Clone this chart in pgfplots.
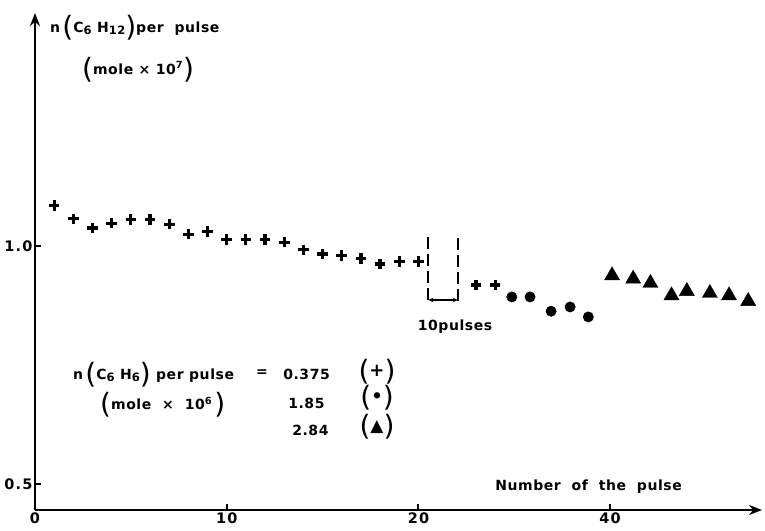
\documentclass[border=0pt]{standalone}
\usepackage{fontspec}
\setmainfont{DejaVu Sans}[LetterSpace=4]
\newfontfamily\tickfont{DejaVu Sans}[LetterSpace=8]
\usepackage{pgfplots}
\pgfplotsset{compat=1.18}
\usetikzlibrary{arrows.meta}

% big thin parentheses like the hand-lettered original
\newcommand{\bp}[1]{\raisebox{-4.5pt}{\fontsize{28}{28}\selectfont\mdseries #1}}
\newcommand{\sub}[1]{\raisebox{-2.5pt}{\fontsize{11.5}{11.5}\selectfont #1}}
\newcommand{\lab}{\fontsize{14}{14}\selectfont\bfseries}

% x is the position along the drawn axis (10 pulses are cut out after 20)
\pgfplotstableread{
x y
1 1.085
2 1.057
3 1.038
4 1.048
5 1.056
6 1.056
7 1.046
8 1.025
9 1.030
10 1.014
11 1.014
12 1.014
13 1.008
14 0.992
15 0.983
16 0.980
17 0.974
18 0.962
19 0.967
20 0.967
23 0.918
24 0.918
}\pluses

\pgfplotstableread{
x y
24.87 0.893
25.82 0.893
26.92 0.863
27.91 0.872
28.86 0.851
}\dots

\pgfplotstableread{
x y
30.1 0.938
31.2 0.931
32.1 0.922
33.2 0.896
34.0 0.905
35.2 0.901
36.2 0.896
37.2 0.884
}\triangles

\begin{document}
\begin{tikzpicture}
\begin{axis}[
    at={(0pt,0pt)}, anchor=south west,
    scale only axis,
    width=727pt, height=497pt,
    xmin=0, xmax=37.92,
    ymin=0.4454, ymax=1.4895,
    axis lines=left,
    axis line style={line width=2.8pt, -{Stealth[length=13pt,width=10pt]}},
    xtick={0,10,20,30},
    xticklabels={0,10,20,40},
    ytick={0.5,1.0},
    yticklabels={0.5,1.0},
    tick align=inside,
    major tick length=6pt,
    tick style={line width=2pt, black},
    ticklabel style={font=\tickfont\fontsize{14.5}{14.5}\selectfont\bfseries},
    xticklabel style={yshift=-0.5pt, inner ysep=2pt},
    yticklabel style={xshift=1pt},
    /pgf/number format/assume math mode=true,
    clip=false,
]
\addplot[only marks, mark=+, mark size=5.3pt, line width=3.2pt] table {\pluses};
\addplot[only marks, mark=*, mark size=5.2pt] table {\dots};
\addplot[only marks, mark=triangle*, mark size=8.7pt] table {\triangles};

% axis break: ten pulses left out
\draw[line width=2pt, dash pattern=on 12pt off 5pt] (axis cs:20.52,1.019) -- (axis cs:20.52,0.880);
\draw[line width=2pt, dash pattern=on 12pt off 5pt] (axis cs:22.05,1.016) -- (axis cs:22.05,0.880);
\draw[line width=1.6pt, {Stealth[length=5pt,width=4.5pt]}-{Stealth[length=5pt,width=4.5pt]}] (axis cs:20.52,0.8866) -- (axis cs:22.05,0.8866);
\node[font=\lab] at (axis cs:21.91,0.830) {10pulses};

% y axis title
\node[font=\lab, anchor=west, inner sep=0pt] at (axis cs:0.78,1.458)
  {n\,\bp{(}C\sub{6} H\sub{12}\bp{)}per\ \ pulse};
\node[font=\lab, anchor=west, inner sep=0pt] at (axis cs:2.45,1.370)
  {\bp{(}mole × 10\textsuperscript{7}\bp{)}};

% x axis title
\node[font=\lab, anchor=west, inner sep=0pt] at (axis cs:24.0,0.494)
  {Number\ \ of\ \ the\ \ pulse};

% key
\node[font=\lab, anchor=west, inner sep=0pt] at (axis cs:1.98,0.729)
  {n\,\bp{(}C\sub{6} H\sub{6}\bp{)} per pulse};
\node[font=\lab, anchor=west, inner sep=0pt] at (axis cs:3.39,0.666)
  {\bp{(}mole\ \ × \ 10\textsuperscript{6}\,\bp{)}};
\node[font=\lab] at (axis cs:11.84,0.733) {=};
\node[font=\lab, anchor=west, inner sep=0pt] at (axis cs:12.94,0.731) {0.375};
\node[font=\lab, anchor=west, inner sep=0pt] at (axis cs:13.20,0.670) {1.85};
\node[font=\lab, anchor=west, inner sep=0pt] at (axis cs:13.41,0.613) {2.84};
\node[font=\lab] at (axis cs:17.84,0.735) {\bp{(}{\fontsize{18}{18}\selectfont+}\bp{)}};
\node[font=\lab] at (axis cs:17.84,0.681) {\bp{(}{\fontsize{18}{18}\selectfont•}\bp{)}};
\node[font=\lab] at (axis cs:17.84,0.620) {\bp{(}{\fontsize{17}{17}\selectfont▲}\bp{)}};
\end{axis}
\pgfresetboundingbox
\useasboundingbox (-35pt,-20pt) rectangle (730pt,510pt);
\end{tikzpicture}
\end{document}
